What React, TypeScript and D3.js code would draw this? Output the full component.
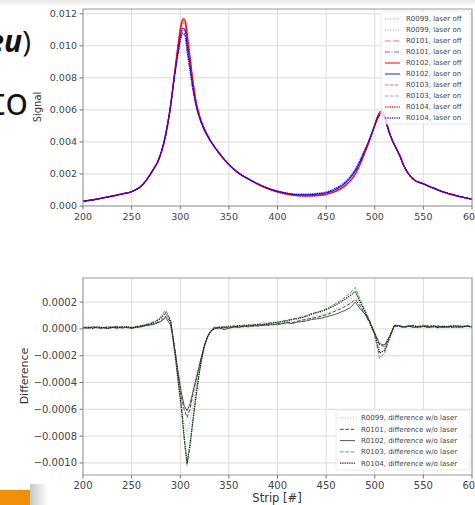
import React from 'react';
import * as d3 from 'd3';

const W = 475;
const H = 505;
const FONT = 'DejaVu Sans, sans-serif';

// ---- top panel: signal per strip ----
const signalStrips = [200, 210, 220, 230, 240, 250, 260, 270, 280, 285, 290, 294, 298, 301, 303, 305, 307, 310, 313, 316,
  320, 325, 330, 340, 350, 360, 370, 380, 390, 400, 410, 420, 430, 440, 450, 460, 470, 480, 490, 495,
  500, 504, 507, 510, 514, 518, 522, 526, 530, 540, 550, 560, 570, 580, 590, 600];

// shared stretches where the runs are indistinguishable
const headOff = [.00030, .00038, .00050, .00062, .00075, .00090, .00125, .00205, .00325, .00440, .00620];
const headOn = [.00030, .00038, .00050, .00062, .00075, .00090, .00125, .00206, .00327, .00448, .00625];
const midOff = [.00560, .00480, .00420, .00330, .00258, .00205, .00168, .00135, .00108, .00088, .00074, .00065, .00063, .00065];
const midOn = [.00550, .00472, .00417, .00330, .00259, .00206, .00169, .00137, .00110, .00091, .00078, .00070, .00069, .00073];
const midOnHi = [.00548, .00470, .00416, .00331, .00260, .00207, .00170, .00138, .00112, .00093, .00080, .00073, .00073, .00078];
const tailOff = [.00410, .00360, .00310, .00250, .00165, .00138, .00112, .00088, .00070, .00055, .00042];
const tailOn = [.00410, .00361, .00311, .00251, .00166, .00139, .00113, .00089, .00071, .00056, .00043];

const offR0099 = [...headOff, .00820, .01010, .01130, .01160, .01150, .01070, .00925, .00780, .00660, ...midOff,
  .00072, .00091, .00127, .00198, .00335, .00415, .00505, .00572, .00592, .00565, .00480, ...tailOff];
const onR0099 = [...headOn, .00810, .00970, .01070, .01100, .01085, .00995, .00870, .00745, .00640, ...midOn,
  .00083, .00106, .00148, .00224, .00350, .00422, .00503, .00562, .00577, .00550, .00474, ...tailOn];
const offR0101 = [...headOff, .00815, .01000, .01120, .01150, .01140, .01060, .00920, .00775, .00658, ...midOff,
  .00073, .00093, .00129, .00199, .00336, .00416, .00506, .00573, .00593, .00566, .00481, ...tailOff];
const onR0101 = [...headOn, .00808, .00970, .01075, .01100, .01090, .01000, .00875, .00750, .00642, ...midOn,
  .00082, .00105, .00146, .00221, .00348, .00420, .00502, .00563, .00580, .00553, .00476, ...tailOn];
const offR0102 = [...headOff, .00820, .01020, .01140, .01170, .01160, .01080, .00930, .00780, .00660, ...midOff,
  .00072, .00092, .00128, .00198, .00335, .00415, .00505, .00572, .00592, .00565, .00480, ...tailOff];
const onR0102 = [...headOn, .00812, .00985, .01090, .01110, .01100, .01020, .00885, .00750, .00640, ...midOn,
  .00081, .00103, .00143, .00218, .00345, .00420, .00502, .00562, .00579, .00555, .00475, ...tailOn];
const offR0103 = [...headOff, .00812, .01000, .01110, .01140, .01130, .01050, .00915, .00772, .00655, ...midOff,
  .00074, .00094, .00130, .00200, .00337, .00417, .00507, .00574, .00594, .00567, .00482, ...tailOff];
const onR0103 = [...headOn, .00800, .00950, .01050, .01070, .01060, .00960, .00840, .00720, .00628, ...midOnHi,
  .00087, .00113, .00154, .00231, .00355, .00425, .00503, .00555, .00572, .00548, .00473, ...tailOn];
const offR0104 = [...headOff, .00818, .01010, .01130, .01160, .01155, .01075, .00928, .00778, .00659, ...midOff,
  .00074, .00094, .00130, .00200, .00337, .00417, .00507, .00574, .00594, .00567, .00482, ...tailOff];
const onR0104 = [...headOn, .00805, .00960, .01060, .01080, .01065, .00975, .00850, .00730, .00635, ...midOnHi,
  .00086, .00110, .00152, .00228, .00353, .00424, .00503, .00557, .00574, .00550, .00474, ...tailOn];

const signalLabels = ['R0099, laser off', 'R0099, laser on', 'R0101, laser off', 'R0101, laser on',
  'R0102, laser off', 'R0102, laser on', 'R0103, laser off', 'R0103, laser on', 'R0104, laser off', 'R0104, laser on'];

// ---- bottom panel: difference (values in units of 1e-5) ----
const diffStrips = [200, 205, 210, 215, 220, 225, 230, 235, 240, 245, 250, 255, 260, 265, 270, 275, 280, 285, 290,
  292, 295, 298, 301, 304, 307, 310, 313, 316, 319, 322, 325, 328, 331,
  335, 340, 345, 350, 355, 360, 365, 370, 375, 380, 385, 390, 395, 400, 405, 410, 415, 420, 425, 430,
  435, 440, 445, 450, 455, 460, 465, 470, 475, 480, 485, 490, 495, 500, 505, 510, 515, 520, 525, 530,
  535, 540, 545, 550, 555, 560, 565, 570, 575, 580, 585, 590, 595, 600];

const diffR0099 = [0.8, 1.5, 0.5, 1.2, 0.9, 1.6, 0.4, 1.1, 1.4, 0.7, 1.3, 0.9, 1.8, 2.2, 3.5, 4.5, 6, 9, 5,
  -5, -20, -38, -55, -70, -78, -70, -57, -44, -33, -22, -13, -6, -2,
  0.5, 1.5, 0, 1, 2, 1.5, 2.5, 1.8, 3, 2.5, 3.5, 3, 4, 3.8, 4.5, 5, 5.5, 6, 7, 7.5, 8.5, 9.5, 10.5, 11.5, 13, 15, 17,
  19.5, 22, 25, 18, 12, 5, -4, -14, -15, -7, 2, 3, 1.5, 2.5, 1.5, 2, 2.5, 1.5, 2, 1.5, 1, 2, 2.5, 1.5, 2, 1.5, 2];
const diffR0101 = [1.2, 0.6, 1.4, 0.9, 0.3, 1.5, 1.1, 0.7, 1.6, 1, 0.5, 1.4, 2, 2.8, 3.2, 4.2, 6, 9.5, 5.5,
  -4, -18, -35, -50, -60, -66, -60, -49, -39, -30, -21, -12, -6, -2,
  1, 0, 1.5, 0.5, 1.5, 2, 1.5, 2.5, 2, 3, 2.5, 3.5, 3, 4.2, 4, 5, 4.5, 5.5, 6.5, 7, 8, 8.5, 9.5, 10.5, 12, 13.5, 15,
  17, 19, 22, 17, 11, 4, -4, -12, -13, -6, 2.5, 2, 1, 2, 2.5, 1, 2, 2.5, 1.5, 1, 2, 1.5, 1, 2, 1.5, 2.5, 1.5];
const diffR0102 = [1, 0.5, 1.5, 0.8, 1.2, 0.3, 1, 1.8, 0.6, 1.2, 0.4, 1.3, 1.5, 2.5, 3, 4, 5.5, 8.5, 3,
  -4, -18, -33, -47, -57, -61, -56, -47, -38, -29, -20, -12, -6, -2,
  0, 1, -0.5, 0.5, 1.5, 1, 2, 1.5, 2.5, 2, 3, 2.5, 3.5, 3, 4, 4.5, 4, 5, 5.5, 6, 7, 7.5, 8, 9, 10, 11, 12.5,
  14, 16, 20, 15, 11, 5, -3, -11, -12, -6, 2, 2.5, 1.5, 2, 1, 1.5, 2, 1, 1.5, 2, 1, 1.5, 2, 1, 1.5, 2, 1.5];
const diffR0103 = [1.5, 0.8, 1.8, 1, 0.6, 1.7, 1.2, 2, 0.9, 1.5, 1.1, 2, 2.5, 3.5, 4.5, 6, 9, 14, 7,
  -3, -20, -40, -58, -82, -102, -88, -70, -52, -36, -23, -13, -6, -2,
  1.5, 0.5, 2, 1, 2.5, 2, 3, 2.5, 3.5, 3, 4.5, 4, 5, 4.5, 6, 6.5, 7.5, 8, 9, 10, 11.5, 12.5, 13.5, 15, 17, 19, 21.5,
  24, 27, 31, 22, 14, 6, -5, -22, -18, -8, 3, 2.5, 1.5, 2.5, 1.5, 2, 3, 1.5, 2, 2.5, 1.5, 2, 2.5, 1.5, 2.5, 2, 1.5];
const diffR0104 = [0.7, 1.3, 0.4, 1.6, 1, 0.5, 1.4, 0.8, 1.2, 1.7, 0.9, 1.5, 2.2, 3, 4, 5.5, 8, 12, 6,
  -4, -21, -40, -57, -80, -100, -86, -68, -51, -35, -22, -12, -6, -2,
  0.5, 1.5, 1, 2, 1.5, 2.5, 2, 3, 2.5, 3.5, 3, 4, 4.5, 5, 5.5, 6, 7, 7.5, 8.5, 9.5, 11, 12, 13, 14.5, 16, 18, 20,
  22.5, 25, 28, 20, 13, 5, -4, -18, -16, -7, 2.5, 2, 1.5, 2, 2.5, 1.5, 2, 1.5, 2.5, 1, 2, 1.5, 2, 2.5, 1.5, 2, 1.5];

const diffLabels = ['R0099, difference w/o laser', 'R0101, difference w/o laser', 'R0102, difference w/o laser',
  'R0103, difference w/o laser', 'R0104, difference w/o laser'];

const stripTicks = [200, 250, 300, 350, 400, 450, 500, 550, 600];
const signalTicks = [0, 0.002, 0.004, 0.006, 0.008, 0.010, 0.012];
const diffTicks = [-0.0010, -0.0008, -0.0006, -0.0004, -0.0002, 0, 0.0002];

type Style = { color: string; dash?: string; width: number; opacity: number };

const signalSeries: { values: number[]; style: Style }[] = [
  { values: offR0099, style: { color: '#ff0000', dash: '1,1.6', width: 1, opacity: 0.5 } },
  { values: onR0099, style: { color: '#0000ff', dash: '1,1.6', width: 1, opacity: 0.4 } },
  { values: offR0101, style: { color: '#ff0000', dash: '5,1.5,1,1.5', width: 1, opacity: 0.6 } },
  { values: onR0101, style: { color: '#0000ff', dash: '5,1.5,1,1.5', width: 1, opacity: 0.6 } },
  { values: offR0102, style: { color: '#ff0000', width: 1.2, opacity: 0.85 } },
  { values: onR0102, style: { color: '#0000ff', width: 1.2, opacity: 0.75 } },
  { values: offR0103, style: { color: '#ff0000', dash: '3.5,1.5', width: 1, opacity: 0.6 } },
  { values: onR0103, style: { color: '#0000ff', dash: '3.5,1.5', width: 1, opacity: 0.4 } },
  { values: offR0104, style: { color: '#ff0000', dash: '1.3,1', width: 1.5, opacity: 0.8 } },
  { values: onR0104, style: { color: '#0000ff', dash: '1.3,1', width: 1.5, opacity: 0.8 } },
];

const diffSeries: { values: number[]; style: Style }[] = [
  { values: diffR0099, style: { color: '#aaaaaa', dash: '1,1.6', width: 1, opacity: 1 } },
  { values: diffR0101, style: { color: '#333333', dash: '3.7,1.6', width: 1, opacity: 0.9 } },
  { values: diffR0102, style: { color: '#444444', width: 1, opacity: 0.9 } },
  { values: diffR0103, style: { color: '#1f9a1f', dash: '3.7,1.6', width: 1, opacity: 0.8 } },
  { values: diffR0104, style: { color: '#111111', dash: '1.3,1', width: 1.3, opacity: 0.9 } },
];

const L = 83, R = 472;
const x = d3.scaleLinear().domain([200, 600]).range([L, R]);
const yTop = d3.scaleLinear().domain([0, 0.0123]).range([206, 9]);
const yBot = d3.scaleLinear().domain([-0.00109, 0.00038]).range([475, 278]);

const fmtSignal = d3.format('.3f');
const fmtDiff = d3.format('.4f');

function Panel(props: {
  id: string; y: d3.ScaleLinear<number, number>; yTicks: number[]; fmt: (v: number) => string;
  strips: number[]; series: { values: number[]; style: Style }[]; scale: number; fontSize: number;
  curve: d3.CurveFactory;
}) {
  const { id, y, yTicks, fmt, strips, series, scale, fontSize, curve } = props;
  const [bottom, top] = y.range();
  const line = (vals: number[]) =>
    d3.line<number>().x((_, i) => x(strips[i])).y(v => y(v * scale)).curve(curve)(vals) || '';
  return (
    <g>
      <defs>
        <clipPath id={id}><rect x={L} y={top} width={R - L} height={bottom - top} /></clipPath>
      </defs>
      {stripTicks.map(t => (
        <line key={'gx' + t} x1={x(t)} x2={x(t)} y1={top} y2={bottom} stroke="#dcdcdc" strokeWidth={1} />
      ))}
      {yTicks.map(t => (
        <line key={'gy' + t} x1={L} x2={R} y1={y(t)} y2={y(t)} stroke="#dcdcdc" strokeWidth={1} />
      ))}
      <g clipPath={`url(#${id})`}>
        {series.map((s, i) => (
          <path key={i} d={line(s.values)} fill="none" stroke={s.style.color} strokeWidth={s.style.width}
            strokeDasharray={s.style.dash} strokeOpacity={s.style.opacity} strokeLinejoin="round" />
        ))}
      </g>
      <rect x={L} y={top} width={R - L} height={bottom - top} fill="none" stroke="#999" strokeWidth={1} />
      {stripTicks.map(t => (
        <g key={'tx' + t}>
          <line x1={x(t)} x2={x(t)} y1={bottom} y2={bottom + 3.5} stroke="#777" />
          <text x={x(t)} y={bottom + 14} textAnchor="middle" fontSize={fontSize} fill="#444" fontFamily={FONT}>{t}</text>
        </g>
      ))}
      {yTicks.map(t => (
        <g key={'ty' + t}>
          <line x1={L - 3.5} x2={L} y1={y(t)} y2={y(t)} stroke="#777" />
          <text x={L - 6} y={y(t)} dy="0.35em" textAnchor="end" fontSize={fontSize} fill="#444" fontFamily={FONT}>{fmt(t)}</text>
        </g>
      ))}
    </g>
  );
}

function Legend(props: {
  x: number; y: number; w: number; h: number; rowY: number; step: number;
  labels: string[]; styles: Style[];
}) {
  const { x: lx, y: ly, w, h, rowY, step, labels, styles } = props;
  return (
    <g>
      <rect x={lx} y={ly} width={w} height={h} rx={2} fill="#fff" fillOpacity={0.8} stroke="#e4e4e4" strokeWidth={0.8} />
      {labels.map((lab, i) => {
        const cy = rowY + i * step;
        const s = styles[i];
        return (
          <g key={lab}>
            <line x1={lx + 4} x2={lx + 19} y1={cy} y2={cy} stroke={s.color} strokeWidth={s.width}
              strokeDasharray={s.dash} strokeOpacity={s.opacity} />
            <text x={lx + 25} y={cy} dy="0.35em" fontSize={7} fill="#444" fontFamily={FONT}>{lab}</text>
          </g>
        );
      })}
    </g>
  );
}

export default function App() {
  return (
    <svg width={W} height={H} style={{ position: 'absolute', left: 0, top: 0, background: '#fff' }}>
      <defs>
        <linearGradient id="topShade" x1="0" x2="0" y1="0" y2="1">
          <stop offset="0" stopColor="#e8e8e8" />
          <stop offset="1" stopColor="#ffffff" />
        </linearGradient>
        <linearGradient id="boxShade" x1="0" x2="1" y1="0" y2="0">
          <stop offset="0" stopColor="#000" stopOpacity={0.22} />
          <stop offset="1" stopColor="#000" stopOpacity={0} />
        </linearGradient>
      </defs>
      <rect x={0} y={0} width={W} height={H} fill="#fff" />
      <rect x={0} y={0} width={W} height={7} fill="url(#topShade)" />

      {/* slide text peeking in from the left */}
      <text x={31} y={52} textAnchor="end" fontSize={30} fontFamily="Open Sans, sans-serif" fill="#111">
        <tspan fontWeight="bold" fontStyle="italic">eu</tspan>
        <tspan>)</tspan>
      </text>
      <text x={28} y={115} textAnchor="end" fontSize={38} fontFamily="Open Sans, sans-serif" fill="#111">to</text>

      <Panel id="clipTop" y={yTop} yTicks={signalTicks} fmt={fmtSignal} strips={signalStrips}
        series={signalSeries} scale={1} fontSize={9.5} curve={d3.curveMonotoneX} />
      <text transform="translate(41,107) rotate(-90)" textAnchor="middle" fontSize={10} fill="#333" fontFamily={FONT}>Signal</text>
      <Legend x={381} y={11} w={89} h={113} rowY={19} step={11} labels={signalLabels}
        styles={signalSeries.map(s => s.style)} />

      <Panel id="clipBot" y={yBot} yTicks={diffTicks} fmt={fmtDiff} strips={diffStrips}
        series={diffSeries} scale={1e-5} fontSize={10} curve={d3.curveLinear} />
      <text transform="translate(28,376) rotate(-90)" textAnchor="middle" fontSize={11} fill="#333" fontFamily={FONT}>Difference</text>
      <text x={277} y={502} textAnchor="middle" fontSize={11.5} fill="#333" fontFamily={FONT}>Strip [#]</text>
      <Legend x={336} y={410} w={134} h={60} rowY={418} step={11.3} labels={diffLabels}
        styles={diffSeries.map(s => s.style)} />

      {/* orange slide marker */}
      <rect x={30} y={484} width={18} height={21} fill="url(#boxShade)" />
      <rect x={0} y={490} width={30} height={15} fill="#f0900a" />
    </svg>
  );
}
